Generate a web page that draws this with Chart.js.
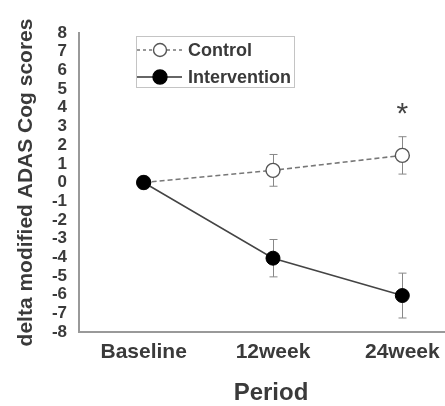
<!DOCTYPE html>
<html><head><meta charset="utf-8">
<script src="https://cdn.jsdelivr.net/npm/chart.js@4"></script>
<style>html,body{margin:0;padding:0;background:#fff}#c{display:block}</style>
</head><body>
<canvas id="c" width="445" height="406"></canvas>
<script>
const categories = ["Baseline", "12week", "24week"];
const controlMean = [0, 0.65, 1.45];
const controlErr = [0, 0.85, 1.0];
const interventionMean = [0, -4.05, -6.05];
const interventionErr = [0, 1.0, 1.2];
const yTicks = [-8,-7,-6,-5,-4,-3,-2,-1,0,1,2,3,4,5,6,7,8];
const seriesNames = ["Control", "Intervention"];
const xTitle = "Period";
const significance = [{idx: 2, y: 3.9, label: "*"}];

const FONT = "'Liberation Sans', Arial, sans-serif";
const TXT = '#3a3a3a';

const errPlugin = {
  id: 'errbars',
  beforeDatasetsDraw(chart) {
    const ctx = chart.ctx, xs = chart.scales.x, ys = chart.scales.y;
    const sets = [[controlMean, controlErr], [interventionMean, interventionErr]];
    ctx.save();
    ctx.strokeStyle = '#888';
    ctx.lineWidth = 1;
    sets.forEach(([m, e]) => {
      m.forEach((v, i) => {
        if (!e[i]) return;
        const x = Math.round(xs.getPixelForValue(i)) + 0.5;
        const y1 = ys.getPixelForValue(v + e[i]);
        const y2 = ys.getPixelForValue(v - e[i]);
        ctx.beginPath();
        ctx.moveTo(x, y1); ctx.lineTo(x, y2);
        ctx.moveTo(x - 4, y1); ctx.lineTo(x + 4, y1);
        ctx.moveTo(x - 4, y2); ctx.lineTo(x + 4, y2);
        ctx.stroke();
      });
    });
    ctx.restore();
  },
  afterDraw(chart) {
    const ctx = chart.ctx, xs = chart.scales.x, ys = chart.scales.y;
    ctx.save();
    ctx.fillStyle = '#444';
    ctx.font = "30px " + FONT;
    ctx.textAlign = 'center'; ctx.textBaseline = 'middle';
    significance.forEach(s => {
      ctx.fillText(s.label, xs.getPixelForValue(s.idx), ys.getPixelForValue(s.y) + 5);
    });
    // x axis title, centred under the middle category
    ctx.fillStyle = TXT;
    ctx.font = "bold 24px " + FONT;
    ctx.textBaseline = 'middle';
    ctx.fillText(xTitle, xs.getPixelForValue(1) - 2, 393);
    // legend
    const lx = 136, ly = 36, lw = 158, lh = 51;
    ctx.strokeStyle = '#c4c4c4'; ctx.lineWidth = 1;
    ctx.strokeRect(lx + 0.5, ly + 0.5, lw, lh);
    const rows = [
      {y: 50, dash: [3, 3], fill: '#fff', r: 6.5, stroke: '#555', lineColor: '#777'},
      {y: 77, dash: [], fill: '#000', r: 7, stroke: '#000', lineColor: '#333'}
    ];
    rows.forEach((r, i) => {
      ctx.setLineDash(r.dash);
      ctx.strokeStyle = r.lineColor; ctx.lineWidth = 1.4;
      ctx.beginPath(); ctx.moveTo(137, r.y); ctx.lineTo(182, r.y); ctx.stroke();
      ctx.setLineDash([]);
      ctx.beginPath(); ctx.arc(160, r.y, r.r, 0, Math.PI * 2);
      ctx.fillStyle = r.fill; ctx.fill();
      ctx.strokeStyle = r.stroke; ctx.lineWidth = 1.4; ctx.stroke();
      ctx.fillStyle = TXT;
      ctx.font = "bold 18px " + FONT;
      ctx.textAlign = 'left'; ctx.textBaseline = 'middle';
      ctx.fillText(seriesNames[i], 188, r.y + 1);
    });
    ctx.restore();
  }
};

new Chart(document.getElementById('c'), {
  type: 'line',
  data: {
    datasets: [
      {
        label: seriesNames[0], order: 1,
        data: controlMean.map((v, i) => ({x: i, y: v})),
        borderColor: '#777', borderWidth: 1.6, borderDash: [5, 3],
        pointRadius: 7, pointBackgroundColor: '#fff', pointBorderColor: '#555', pointBorderWidth: 1.4,
        fill: false, tension: 0
      },
      {
        label: seriesNames[1], order: 0,
        data: interventionMean.map((v, i) => ({x: i, y: v})),
        borderColor: '#444', borderWidth: 1.5,
        pointRadius: 7, pointBackgroundColor: '#000', pointBorderColor: '#000', pointBorderWidth: 1,
        fill: false, tension: 0
      }
    ]
  },
  options: {
    responsive: false, animation: false, devicePixelRatio: 1,
    layout: {autoPadding: false, padding: {top: 33, right: 0, left: 0, bottom: 0}},
    plugins: {legend: {display: false}, tooltip: {enabled: false}},
    scales: {
      x: {
        type: 'linear', min: -0.5, max: 2.33,
        afterBuildTicks(s) { s.ticks = [-0.5, 0, 0.5, 1, 1.5, 2].map(v => ({value: v})); },
        afterFit(s) { s.height = 74; s.paddingLeft = 0; s.paddingRight = 0; },
        grid: {display: false, drawTicks: true, tickLength: 4, tickColor: '#888'},
        border: {display: true, color: '#999', width: 2},
        ticks: {
          autoSkip: false, maxRotation: 0, padding: 4,
          color: TXT, font: {family: FONT, size: 21, weight: 'bold'},
          callback: v => Number.isInteger(v) && v >= 0 ? categories[v] : ''
        },
        title: {display: false}
      },
      y: {
        min: -8, max: 8,
        afterBuildTicks(s) {
          const t = [];
          for (let v = -8; v <= 8; v += 0.5) t.push({value: v});
          s.ticks = t;
        },
        afterFit(s) { s.width = 79; s.paddingTop = 0; s.paddingBottom = 0; },
        grid: {display: false, drawTicks: true, tickLength: 7, tickColor: '#888'},
        border: {display: true, color: '#999', width: 2},
        ticks: {
          autoSkip: false, padding: 5,
          color: TXT, font: {family: FONT, size: 17, weight: 'bold', lineHeight: 1},
          callback: v => yTicks.includes(v) ? String(v) : ''
        },
        title: {display: true, text: 'delta modified ADAS Cog scores', color: TXT, font: {family: FONT, size: 21, weight: 'bold'}, padding: {top: 14, bottom: 0}}
      }
    }
  },
  plugins: [errPlugin]
});
</script>
</body></html>
